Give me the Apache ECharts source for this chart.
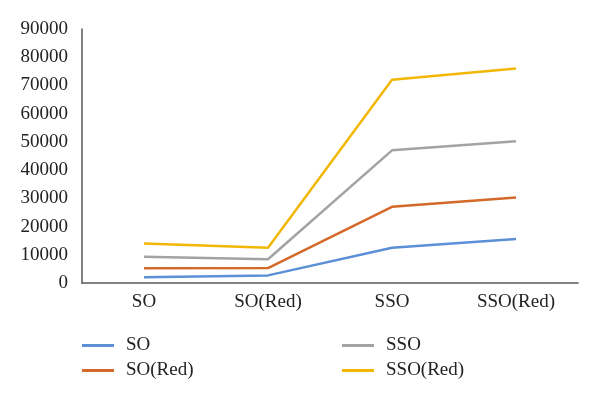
<!DOCTYPE html>
<html>
<head>
<meta charset="utf-8">
<script src="https://cdn.jsdelivr.net/npm/echarts@6/dist/echarts.min.js"></script>
<style>
  html, body { margin: 0; padding: 0; background: #fff; }
  #chart { width: 600px; height: 398px; }
</style>
</head>
<body>
<div id="chart"></div>
<script>
const categories = ["SO", "SO(Red)", "SSO", "SSO(Red)"];
const soData = [2000, 2700, 12500, 15600];
const soRedData = [5200, 5300, 27000, 30300];
const ssoData = [9300, 8400, 47000, 50200];
const ssoRedData = [14000, 12500, 72000, 76000];

const font = "Liberation Serif";
const colors = ["#5b8fd6", "#d4692b", "#a3a3a3", "#f2b705"];

const chart = echarts.init(document.getElementById("chart"));

function legendBox(names, left) {
  return {
    orient: "vertical",
    left: left,
    top: 336,
    padding: 0,
    itemWidth: 32,
    itemHeight: 3,
    itemGap: 6,
    icon: "rect",
    data: names,
    textStyle: { fontFamily: font, fontSize: 19, color: "#222", padding: [0, 0, 0, 7] },
  };
}

chart.setOption({
  animation: false,
  color: colors,
  grid: { left: 82, right: 22, top: 29, bottom: 115 },
  legend: [legendBox(["SO", "SO(Red)"], 82), legendBox(["SSO", "SSO(Red)"], 342)],
  xAxis: {
    type: "category",
    data: categories,
    axisLine: { lineStyle: { color: "#595959", width: 1.5 } },
    axisTick: { show: false },
    axisLabel: { fontFamily: font, fontSize: 19, color: "#222", margin: 10 },
  },
  yAxis: {
    type: "value",
    min: 0,
    max: 90000,
    interval: 10000,
    axisLine: { show: true, lineStyle: { color: "#595959", width: 1.5 } },
    axisTick: { show: false },
    splitLine: { show: false },
    axisLabel: { fontFamily: font, fontSize: 19, color: "#222", margin: 14, formatter: v => String(v) },
  },
  series: [
    { name: "SO", type: "line", data: soData },
    { name: "SO(Red)", type: "line", data: soRedData },
    { name: "SSO", type: "line", data: ssoData },
    { name: "SSO(Red)", type: "line", data: ssoRedData },
  ].map(s => Object.assign(s, { symbol: "none", lineStyle: { width: 2.5 } })),
});
</script>
</body>
</html>
